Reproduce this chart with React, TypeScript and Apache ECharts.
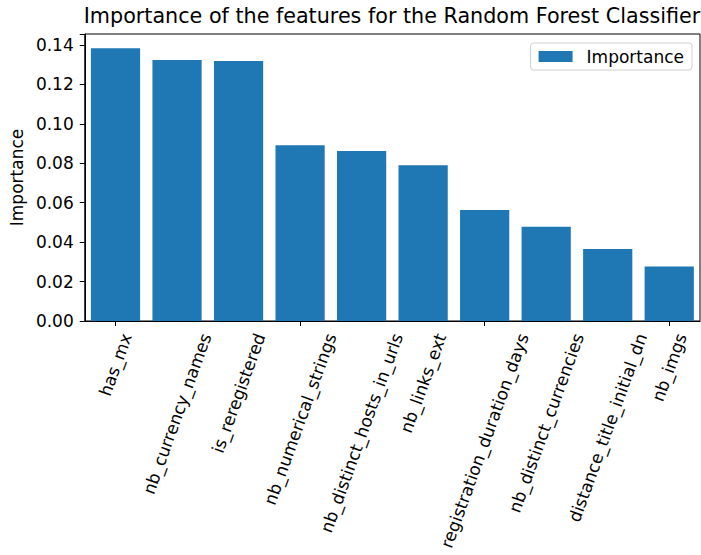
import React, { useEffect, useRef } from "react";
import * as echarts from "echarts";

const categories = [
  "has_mx",
  "nb_currency_names",
  "is_reregistered",
  "nb_numerical_strings",
  "nb_distinct_hosts_in_urls",
  "nb_links_ext",
  "registration_duration_days",
  "nb_distinct_currencies",
  "distance_title_initial_dn",
  "nb_imgs",
];
const importance = [0.1383, 0.1324, 0.1319, 0.0891, 0.0862, 0.079, 0.0563, 0.0478, 0.0365, 0.0277];
const yTicks = [0, 0.02, 0.04, 0.06, 0.08, 0.1, 0.12, 0.14];
const seriesName = "Importance";
const titleText = "Importance of the features for the Random Forest Classifier";

const FONT = "'DejaVu Sans', Verdana, sans-serif";
const LABEL_SIZE = 17;

function measure(text: string): number {
  const c = document.createElement("canvas");
  const ctx = c.getContext("2d");
  if (!ctx) return text.length * LABEL_SIZE * 0.6;
  ctx.font = `${LABEL_SIZE}px 'DejaVu Sans'`;
  return ctx.measureText(text).width;
}

export default function App() {
  const ref = useRef<HTMLDivElement>(null);
  useEffect(() => {
    if (!ref.current) return;
    const chart = echarts.init(ref.current, null, { renderer: "svg" });
    const rad = (70 * Math.PI) / 180;
    const lineH = LABEL_SIZE * 1.16;
    const widths = categories.map((c) => measure(c));
    const yMax = 0.14558;
    chart.setOption({
      animation: false,
      title: {
        text: titleText,
        left: 392,
        top: 5,
        textAlign: "center",
        padding: 0,
        textStyle: { fontFamily: FONT, fontSize: 20.7, fontWeight: "normal", color: "#000" },
      },
      legend: {
        data: [seriesName],
        right: 9,
        top: 43,
        orient: "vertical",
        padding: [5, 8, 5, 8],
        borderColor: "#d0d0d0",
        borderWidth: 1,
        borderRadius: 3,
        itemWidth: 34,
        itemHeight: 11,
        icon: "rect",
        textStyle: { fontFamily: FONT, fontSize: LABEL_SIZE, color: "#000", padding: [0, 0, 0, 9] },
      },
      grid: {
        left: 84,
        right: 1,
        top: 34,
        bottom: 234,
        show: true,
        borderColor: "#000",
        borderWidth: 1,
        containLabel: false,
      },
      xAxis: {
        type: "category",
        data: categories,
        axisLine: { show: true, lineStyle: { color: "#000", width: 1 } },
        axisTick: { show: true, alignWithLabel: true, length: 5, lineStyle: { color: "#000", width: 1 } },
        axisLabel: { show: false },
        splitLine: { show: false },
      },
      yAxis: {
        type: "value",
        min: 0,
        max: yMax,
        interval: 0.02,
        name: seriesName,
        nameLocation: "middle",
        nameGap: 56,
        nameTextStyle: { fontFamily: FONT, fontSize: LABEL_SIZE, color: "#000" },
        axisLine: { show: true, lineStyle: { color: "#000", width: 1 } },
        axisTick: { show: true, length: 5, lineStyle: { color: "#000", width: 1 } },
        axisLabel: {
          margin: 11,
          fontFamily: FONT,
          fontSize: LABEL_SIZE,
          color: "#000",
          formatter: (v: number) => {
            const hit = yTicks.find((t) => Math.abs(t - v) < 1e-9);
            return hit === undefined ? "" : hit.toFixed(2);
          },
        },
        splitLine: { show: false },
      },
      series: [
        {
          name: seriesName,
          type: "bar",
          data: importance,
          barCategoryGap: "20%",
          itemStyle: { color: "#1f77b4" },
        },
        {
          name: "labels",
          type: "custom",
          clip: false,
          silent: true,
          data: categories.map((_, i) => [i, 0]),
          renderItem: (params: any, api: any) => {
            const i = api.value(0);
            const p = api.coord([i, 0]);
            const w = widths[i];
            const bh = w * Math.sin(rad) + lineH * Math.cos(rad);
            return {
              type: "text",
              x: p[0],
              y: p[1] + 9.7 + bh / 2,
              rotation: rad,
              style: {
                text: categories[i],
                align: "center",
                verticalAlign: "middle",
                fontFamily: FONT,
                fontSize: LABEL_SIZE,
                fill: "#000",
              },
            };
          },
        },
      ],
    });
    return () => chart.dispose();
  }, []);
  return (
    <div
      ref={ref}
      style={{ position: "absolute", left: 0, top: 0, width: 701, height: 555, background: "#fff" }}
    />
  );
}
